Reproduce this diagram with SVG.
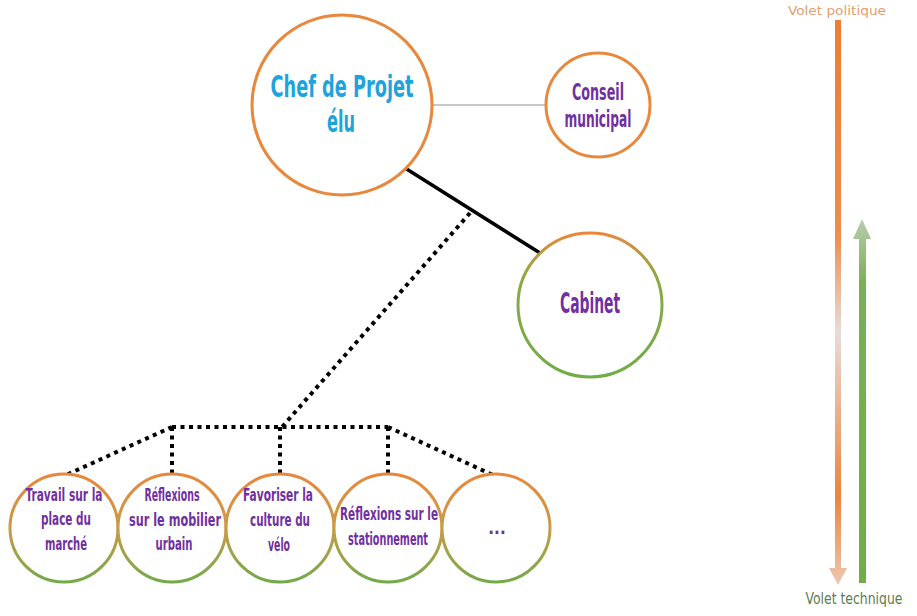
<svg xmlns="http://www.w3.org/2000/svg" width="917" height="616" viewBox="0 0 917 616">
  <defs>
    <linearGradient id="og" x1="0" y1="0" x2="0" y2="1">
      <stop offset="0" stop-color="#E8873C"/>
      <stop offset="0.5" stop-color="#C99B48"/>
      <stop offset="1" stop-color="#72AA4A"/>
    </linearGradient>
    <linearGradient id="cabg" x1="0" y1="0" x2="0" y2="1">
      <stop offset="0" stop-color="#E8873C"/>
      <stop offset="0.3" stop-color="#8FA846"/>
      <stop offset="1" stop-color="#70AD47"/>
    </linearGradient>
    <linearGradient id="orangeBar" gradientUnits="userSpaceOnUse" x1="0" y1="20" x2="0" y2="586">
      <stop offset="0" stop-color="#ED7D31"/>
      <stop offset="0.38" stop-color="#EE8D4D"/>
      <stop offset="0.55" stop-color="#E6DCDA"/>
      <stop offset="0.84" stop-color="#EB843C"/>
      <stop offset="1" stop-color="#EEC8B2"/>
    </linearGradient>
    <linearGradient id="greenBar" gradientUnits="userSpaceOnUse" x1="0" y1="218" x2="0" y2="583">
      <stop offset="0" stop-color="#B8CDAE"/>
      <stop offset="0.18" stop-color="#7AAF56"/>
      <stop offset="1" stop-color="#70AD47"/>
    </linearGradient>
    <style>
      .node { fill: #FFFFFF; stroke-width: 3; }
      .orange { stroke: #E8883C; }
      .grad { stroke: url(#og); }
      .lbl { font-family: "DejaVu Sans Condensed", "DejaVu Sans", sans-serif; font-weight: bold; fill: #7030A0; text-anchor: middle; }
      .small { font-size: 17px; }
      .dots { fill: none; stroke: #000000; stroke-width: 4; stroke-dasharray: 4 4.5; }
      .side { font-family: "DejaVu Sans Condensed", "DejaVu Sans", sans-serif; font-size: 15px; text-anchor: middle; }
    </style>
  </defs>
  <rect width="917" height="616" fill="#FFFFFF"/>

  <g id="connectors">
    <line x1="432" y1="105" x2="546" y2="105" stroke="#777777" stroke-width="0.8"/>
    <line x1="405" y1="168" x2="540" y2="253" stroke="#000000" stroke-width="3.5"/>
    <line class="dots" x1="470" y1="213" x2="282" y2="427"/>
    <line class="dots" x1="172" y1="427" x2="388" y2="427"/>
    <line class="dots" x1="172" y1="427" x2="172" y2="475"/>
    <line class="dots" x1="280" y1="427" x2="280" y2="475"/>
    <line class="dots" x1="388" y1="427" x2="388" y2="475"/>
    <line class="dots" x1="172" y1="427" x2="66" y2="475"/>
    <line class="dots" x1="388" y1="427" x2="495" y2="476"/>
  </g>

  <g id="chef">
    <circle class="node orange" cx="342" cy="105" r="90"/>
    <text class="lbl" x="342" y="97" font-size="31" style="fill:#1FA3DC" textLength="143" lengthAdjust="spacingAndGlyphs">Chef de Projet</text>
    <text class="lbl" x="341" y="132" font-size="31" style="fill:#1FA3DC" textLength="28" lengthAdjust="spacingAndGlyphs">élu</text>
  </g>

  <g id="conseil">
    <circle class="node orange" cx="598" cy="105" r="52"/>
    <text class="lbl" x="598" y="100" font-size="23" textLength="52" lengthAdjust="spacingAndGlyphs">Conseil</text>
    <text class="lbl" x="598" y="127" font-size="23" textLength="67" lengthAdjust="spacingAndGlyphs">municipal</text>
  </g>

  <g id="cabinet">
    <circle class="node" cx="590" cy="305" r="72" stroke="url(#cabg)"/>
    <text class="lbl" x="590" y="313" font-size="28" textLength="60" lengthAdjust="spacingAndGlyphs">Cabinet</text>
  </g>

  <g id="travail">
    <circle class="node grad" cx="64" cy="528" r="54"/>
    <text class="lbl small" x="64" y="501" textLength="77" lengthAdjust="spacingAndGlyphs">Travail  sur la</text>
    <text class="lbl small" x="66" y="525" textLength="50" lengthAdjust="spacingAndGlyphs">place  du</text>
    <text class="lbl small" x="66" y="550" textLength="42" lengthAdjust="spacingAndGlyphs">marché</text>
  </g>

  <g id="mobilier">
    <circle class="node grad" cx="172" cy="528" r="54"/>
    <text class="lbl small" x="172" y="501" textLength="55" lengthAdjust="spacingAndGlyphs">Réflexions</text>
    <text class="lbl small" x="175" y="526" textLength="92" lengthAdjust="spacingAndGlyphs">sur le mobilier</text>
    <text class="lbl small" x="174" y="550" textLength="37" lengthAdjust="spacingAndGlyphs">urbain</text>
  </g>

  <g id="velo">
    <circle class="node grad" cx="280" cy="528" r="54"/>
    <text class="lbl small" x="278" y="501" textLength="70" lengthAdjust="spacingAndGlyphs">Favoriser  la</text>
    <text class="lbl small" x="280" y="526" textLength="60" lengthAdjust="spacingAndGlyphs">culture  du</text>
    <text class="lbl small" x="279" y="551" textLength="22" lengthAdjust="spacingAndGlyphs">vélo</text>
  </g>

  <g id="stationnement">
    <circle class="node grad" cx="388" cy="528" r="54"/>
    <text class="lbl small" x="389" y="520" textLength="98" lengthAdjust="spacingAndGlyphs">Réflexions  sur le</text>
    <text class="lbl small" x="388" y="545" textLength="80" lengthAdjust="spacingAndGlyphs">stationnement</text>
  </g>

  <g id="autres">
    <circle class="node grad" cx="496" cy="528" r="54"/>
    <text class="lbl small" x="497" y="534">...</text>
  </g>

  <g id="volet-politique">
    <rect x="835" y="20" width="6" height="549" fill="url(#orangeBar)"/>
    <polygon points="829,568 847,568 838,585" fill="url(#orangeBar)"/>
    <text class="side" x="837" y="15" font-size="13" style="font-size:13px" fill="#E2A070" textLength="98" lengthAdjust="spacingAndGlyphs">Volet  politique</text>
  </g>

  <g id="volet-technique">
    <polygon points="862,219 871,239 853,239" fill="url(#greenBar)"/>
    <rect x="859" y="238" width="7" height="345" fill="url(#greenBar)"/>
    <text class="side" x="854" y="604" fill="#5E7B4F" textLength="97" lengthAdjust="spacingAndGlyphs">Volet  technique</text>
  </g>
</svg>
